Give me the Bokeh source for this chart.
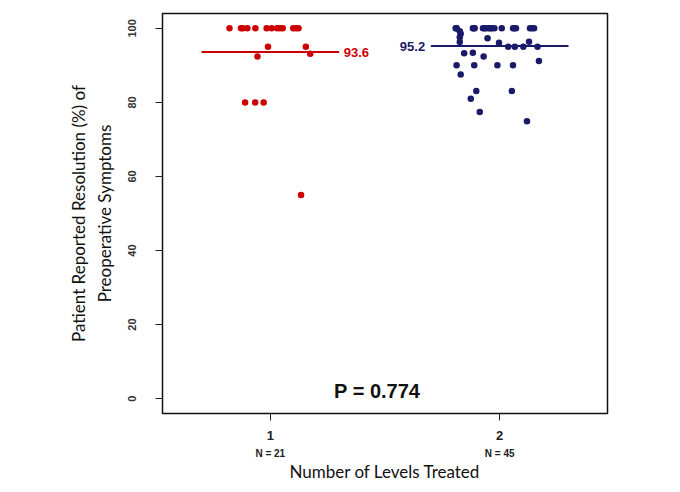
from bokeh.plotting import figure
from bokeh.models import FixedTicker, LinearAxis, Range1d, ColumnDataSource, Label
from bokeh.embed import file_html
from bokeh.resources import INLINE
from bokeh.core.properties import value

# ---- data ----
groups = [1, 2]
n_labels = ["N = 21", "N = 45"]
means = [93.6, 95.2]
mean_text = ["93.6", "95.2"]
y_ticks = [0, 20, 40, 60, 80, 100]
p_value_text = "P = 0.774"

# group 1 (one level): jitter offset from group centre, resolution %
g1_offset = [-0.178, -0.128, -0.120, -0.100, -0.065, -0.016, 0.006, 0.030, 0.042,
             0.054, 0.100, 0.112, 0.123,
             -0.010, 0.155,
             -0.056, 0.174,
             -0.110, -0.066, -0.029,
             0.134]
g1_y = [100, 100, 100, 100, 100, 100, 100, 100, 100,
        100, 100, 100, 100,
        95, 95,
        92.4, 93.1,
        80, 80, 80,
        55]

# group 2 (two levels)
g2_offset = [-0.192, -0.190, -0.187, -0.117, -0.113, -0.109, -0.073, -0.066, -0.060,
             -0.047, -0.040, -0.034, -0.023, 0.009, 0.058, 0.064, 0.071, 0.132, 0.141, 0.150,
             -0.174, -0.170, -0.174, -0.174,
             -0.053, -0.003, 0.128,
             0.037, 0.066, 0.103, 0.165,
             -0.155, -0.117, -0.070, 0.171,
             -0.188, -0.111, -0.010, 0.058,
             -0.170, -0.102, 0.053, -0.126, -0.087, 0.119]
g2_y = [100, 100, 100, 100, 100, 100, 100, 100, 100,
        100, 100, 100, 100, 100, 100, 100, 100, 100, 100, 100,
        99.2, 98.5, 97.6, 96.3,
        97.3, 96.1, 96.4,
        95, 95, 95, 95,
        93.3, 93.4, 92.4, 91.2,
        90, 90, 90, 90,
        87.5, 83.1, 83.1, 81.0, 77.4, 74.9]

colors = ["#cc0000", "#1a1a6a"]

# ---- figure ----
p = figure(width=672, height=484, output_backend="svg", toolbar_location=None,
           x_range=Range1d(0.53, 2.47), y_range=Range1d(-4, 104),
           min_border_left=162, min_border_right=65, min_border_top=13, min_border_bottom=71)
p.xgrid.visible = False
p.ygrid.visible = False
p.outline_line_color = "#111111"
p.outline_line_width = 1.5
p.background_fill_color = "white"
p.border_fill_color = "white"

TICK_FONT = "Liberation Sans"
TITLE_FONT = "Lato"

# y axis
ya = p.yaxis[0]
ya.ticker = FixedTicker(ticks=y_ticks)
ya.axis_line_color = None
ya.major_tick_in = 0
ya.major_tick_out = 7
ya.major_tick_line_color = "#222222"
ya.minor_tick_line_color = None
ya.major_label_orientation = "vertical"
ya.major_label_text_font = TICK_FONT
ya.major_label_text_font_style = "bold"
ya.major_label_text_font_size = "11px"
ya.major_label_text_color = "#333333"
ya.major_label_standoff = 19
ya.axis_label = "Patient Reported Resolution (%) of\nPreoperative Symptoms"
ya.axis_label_text_font = TITLE_FONT
ya.axis_label_text_font_style = "normal"
ya.axis_label_text_font_size = "17px"
ya.axis_label_text_color = "#111111"
ya.axis_label_standoff = 11

# x axis (group numbers)
xa = p.xaxis[0]
xa.ticker = FixedTicker(ticks=groups)
xa.major_label_overrides = {g: str(g) for g in groups}
xa.axis_line_color = None
xa.major_tick_in = 0
xa.major_tick_out = 7
xa.major_tick_line_color = "#222222"
xa.minor_tick_line_color = None
xa.major_label_text_font = TICK_FONT
xa.major_label_text_font_style = "bold"
xa.major_label_text_font_size = "13px"
xa.major_label_text_color = "#222222"
xa.major_label_standoff = 10

# second x axis with N labels + title
xb = LinearAxis(ticker=FixedTicker(ticks=groups),
                major_label_overrides={g: t for g, t in zip(groups, n_labels)})
xb.axis_line_color = None
xb.major_tick_line_color = None
xb.major_tick_in = 0
xb.major_tick_out = 0
xb.minor_tick_line_color = None
xb.major_label_text_font = TICK_FONT
xb.major_label_text_font_style = "bold"
xb.major_label_text_font_size = "10px"
xb.major_label_text_color = "#222222"
xb.major_label_standoff = 5
xb.axis_label = "Number of Levels Treated"
xb.axis_label_text_font = TITLE_FONT
xb.axis_label_text_font_style = "normal"
xb.axis_label_text_font_size = "17px"
xb.axis_label_text_color = "#111111"
xb.axis_label_standoff = -1
p.add_layout(xb, "below")

# points
s1 = ColumnDataSource(dict(x=[groups[0] + o for o in g1_offset], y=g1_y))
s2 = ColumnDataSource(dict(x=[groups[1] + o for o in g2_offset], y=g2_y))
p.scatter("x", "y", source=s1, size=6.5, color=colors[0], line_color=None)
p.scatter("x", "y", source=s2, size=6.5, color=colors[1], line_color=None)

# mean lines
half = 0.3
ms = ColumnDataSource(dict(x0=[g - half for g in groups], x1=[g + half for g in groups],
                           y=means, c=colors))
p.segment(x0="x0", x1="x1", y0="y", y1="y", source=ms, line_color="c", line_width=2)

# mean labels
p.text(x=[groups[0] + half + 0.02], y=[means[0]], text=[mean_text[0]],
       text_color=colors[0], text_font=value(TICK_FONT), text_font_style="bold",
       text_font_size="13px", text_align="left", text_baseline="middle")
p.text(x=[groups[1] - half - 0.025], y=[means[1]], text=[mean_text[1]],
       text_color=colors[1], text_font=value(TICK_FONT), text_font_style="bold",
       text_font_size="13px", text_align="right", text_baseline="middle")

# p-value
p_x, p_y = 1.466, 2.0
p.add_layout(Label(x=p_x, y=p_y, text=p_value_text, text_font=TICK_FONT,
                   text_font_style="bold", text_font_size="20px", text_color="#111111",
                   text_align="center", text_baseline="middle"))

open("out.html", "w").write(file_html(p, INLINE))
